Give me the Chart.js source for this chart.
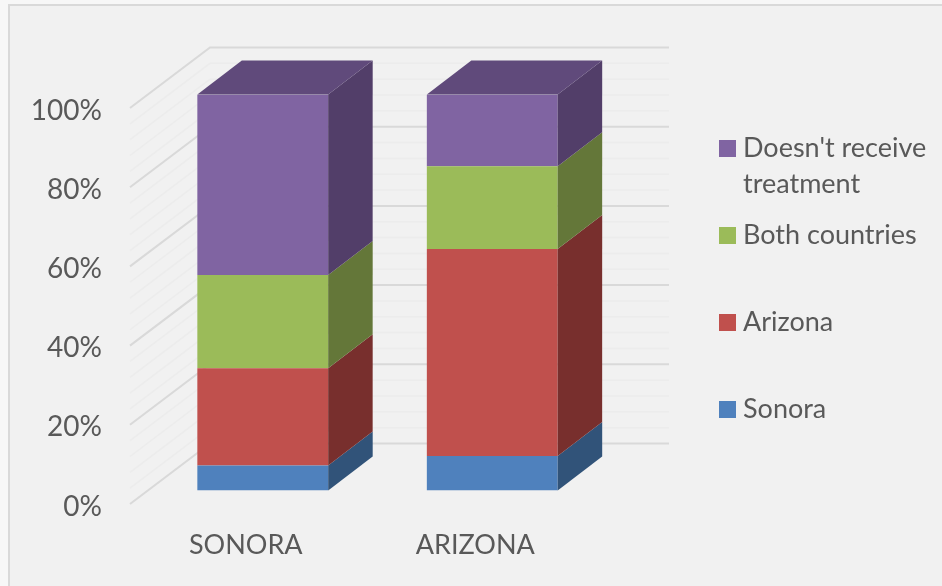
<!DOCTYPE html>
<html>
<head>
<meta charset="utf-8">
<title>Treatment by place of residence</title>
<script src="https://cdn.jsdelivr.net/npm/chart.js@4"></script>
<style>
body { margin: 0; background: #f7f7f7; overflow: hidden; }
canvas { display: block; }
</style>
</head>
<body>
<canvas id="myChart" width="942" height="586"></canvas>
<script>
const places = ['SONORA', 'ARIZONA'];
const sonoraValues = [6.3, 8.7];
const arizonaValues = [24.6, 52.3];
const bothValues = [23.5, 20.9];
const noTreatmentValues = [45.6, 18.1];
const yTicks = [0, 20, 40, 60, 80, 100];
const seriesNames = ['Sonora', 'Arizona', 'Both countries', "Doesn't receive treatment"];
const frontColors = ['#4f81bd', '#c0504d', '#9bbb59', '#8064a2'];
const sideColors = ['#315379', '#782f2d', '#647739', '#523e69'];
const topColor = '#604a7b';

const depthX = 44.5, depthY = -34;
const textColor = '#595959';
const fontName = 'Lato, Carlito, sans-serif';

function poly(ctx, pts, color) {
    ctx.fillStyle = color;
    ctx.beginPath();
    pts.forEach((p, i) => i ? ctx.lineTo(p[0], p[1]) : ctx.moveTo(p[0], p[1]));
    ctx.closePath();
    ctx.fill();
}

// frame and the floor/wall lines behind the bars
const wallPlugin = {
    id: 'wall',
    beforeDraw(chart) {
        const ctx = chart.ctx;
        ctx.save();
        ctx.fillStyle = '#f1f1f1';
        ctx.fillRect(8, 4, 934, 582);
        ctx.fillStyle = '#d9d9d9';
        ctx.fillRect(8, 4, 934, 2);
        ctx.fillRect(8, 4, 2, 582);
        ctx.restore();
    },
    beforeDatasetsDraw(chart) {
        const ctx = chart.ctx;
        const y = chart.scales.y;
        ctx.save();
        for (let v = 0; v <= 100; v += 4) {
            const py = y.getPixelForValue(v);
            const major = v % 20 === 0;
            ctx.strokeStyle = major ? '#d9d9d9' : '#ececec';
            ctx.lineWidth = major ? 2 : 1.5;
            ctx.beginPath();
            ctx.moveTo(130, py + 13.5);
            ctx.lineTo(210, py - 47);
            ctx.lineTo(669, py - 47);
            ctx.stroke();
        }
        ctx.restore();
    }
};

// side and top faces, taken from the bars the library has laid out
const facesPlugin = {
    id: 'faces',
    afterDatasetsDraw(chart) {
        const ctx = chart.ctx;
        ctx.save();
        chart.data.datasets.forEach((ds, i) => {
            chart.getDatasetMeta(i).data.forEach(bar => {
                const right = bar.x + bar.width / 2;
                const left = bar.x - bar.width / 2;
                poly(ctx, [[right, bar.base], [right + depthX, bar.base + depthY], [right + depthX, bar.y + depthY], [right, bar.y]], sideColors[i]);
                if (i === chart.data.datasets.length - 1) {
                    poly(ctx, [[left, bar.y], [left + depthX, bar.y + depthY], [right + depthX, bar.y + depthY], [right, bar.y]], topColor);
                }
            });
        });
        ctx.restore();
    }
};

// legend on the right, top entry first, long names wrap
const sideLegendPlugin = {
    id: 'sideLegend',
    afterDraw(chart) {
        const ctx = chart.ctx;
        ctx.save();
        ctx.font = '27px ' + fontName;
        ctx.textAlign = 'left';
        ctx.textBaseline = 'alphabetic';
        chart.data.datasets.forEach((ds, i) => {
            const bottom = 418 - i * 87;
            ctx.fillStyle = frontColors[i];
            ctx.fillRect(719, bottom - 17, 17, 17);
            ctx.fillStyle = textColor;
            let line = '';
            let lineY = bottom;
            ds.label.split(' ').forEach(word => {
                const next = line ? line + ' ' + word : word;
                if (ctx.measureText(next).width > 190) {
                    ctx.fillText(line, 743, lineY);
                    lineY += 36;
                    line = word;
                } else {
                    line = next;
                }
            });
            ctx.fillText(line, 743, lineY);
        });
        ctx.restore();
    }
};

const seriesValues = [sonoraValues, arizonaValues, bothValues, noTreatmentValues];

new Chart(document.getElementById('myChart'), {
    type: 'bar',
    data: {
        labels: places,
        datasets: seriesNames.map((name, i) => ({
            label: name,
            data: seriesValues[i],
            backgroundColor: frontColors[i],
            barPercentage: 0.57,
            categoryPercentage: 1
        }))
    },
    options: {
        responsive: false,
        animation: false,
        layout: { padding: { top: 94.5, right: 335, left: 0, bottom: 0 } },
        plugins: { legend: { display: false }, tooltip: { enabled: false } },
        scales: {
            x: {
                stacked: true,
                grid: { display: false },
                border: { display: false },
                afterFit(scale) { scale.height = 95.5; },
                ticks: {
                    color: textColor,
                    font: { family: fontName, size: 27 },
                    padding: 31,
                    labelOffset: -17,
                    maxRotation: 0
                }
            },
            y: {
                stacked: true,
                min: 0,
                max: 100,
                grid: { display: false },
                border: { display: false },
                afterFit(scale) { scale.width = 148; },
                afterBuildTicks(scale) { scale.ticks = yTicks.map(v => ({ value: v })); },
                ticks: {
                    color: textColor,
                    font: { family: fontName, size: 28 },
                    padding: 38,
                    labelOffset: 16,
                    callback: v => v + '%'
                }
            }
        }
    },
    plugins: [wallPlugin, facesPlugin, sideLegendPlugin]
});
</script>
</body>
</html>
